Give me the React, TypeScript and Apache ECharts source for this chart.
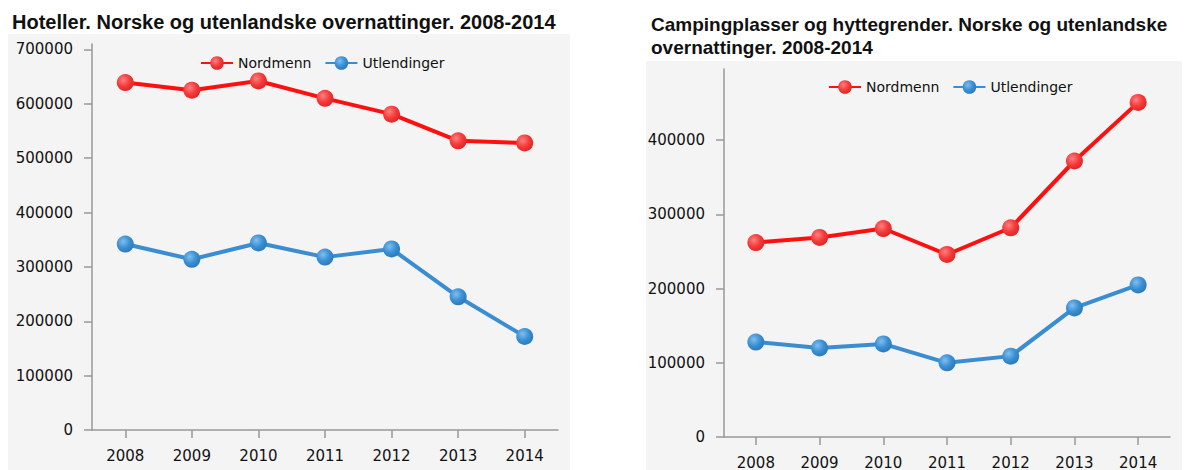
import React, { useEffect, useRef } from "react";
import * as echarts from "echarts";

const years = ["2008", "2009", "2010", "2011", "2012", "2013", "2014"];
const hotelNordmenn = [639000, 625000, 642000, 610000, 581000, 532000, 528000];
const hotelUtlendinger = [342000, 314000, 344000, 318000, 333000, 245000, 172000];
const campNordmenn = [262000, 269000, 281000, 246000, 282000, 372000, 451000];
const campUtlendinger = [128000, 120000, 125500, 100000, 109000, 174000, 205000];
const hotelTicks = [0, 100000, 200000, 300000, 400000, 500000, 600000, 700000];
const campTicks = [0, 100000, 200000, 300000, 400000];
const seriesNames = ["Nordmenn", "Utlendinger"];
const titles = [
  "Hoteller. Norske og utenlandske overnattinger. 2008-2014",
  "Campingplasser og hyttegrender. Norske og utenlandske\novernattinger. 2008-2014",
];

const FONT = "DejaVu Sans";
const RED = "#ff1010";
const BLUE = "#3a8dd0";

const redFill = {
  type: "radial",
  x: 0.38,
  y: 0.35,
  r: 0.7,
  colorStops: [
    { offset: 0, color: "#ff8080" },
    { offset: 0.55, color: "#f43a3a" },
    { offset: 1, color: "#e02222" },
  ],
};
const blueFill = {
  type: "radial",
  x: 0.38,
  y: 0.35,
  r: 0.7,
  colorStops: [
    { offset: 0, color: "#7fbff0" },
    { offset: 0.55, color: "#3a8fd2" },
    { offset: 1, color: "#2a78b8" },
  ],
};

function xAxisFor(gridIndex: number) {
  return {
    type: "category",
    gridIndex,
    data: years,
    boundaryGap: true,
    axisLine: { show: true, lineStyle: { color: "#999", width: 1.5 } },
    axisTick: { show: true, alignWithLabel: true, length: 8, lineStyle: { color: "#999", width: 1.5 } },
    axisLabel: { fontFamily: FONT, fontSize: 15, color: "#111", margin: 18 },
    splitLine: { show: false },
  };
}

function yAxisFor(gridIndex: number, max: number, ticks: number[]) {
  return {
    type: "value",
    gridIndex,
    min: 0,
    max,
    axisLine: { show: true, lineStyle: { color: "#999", width: 1.5 } },
    axisTick: { show: true, length: 8, customValues: ticks, lineStyle: { color: "#999", width: 1.5 } },
    axisLabel: {
      fontFamily: FONT,
      fontSize: 15,
      color: "#111",
      margin: 19,
      customValues: ticks,
      formatter: (v: number) => String(v),
    },
    splitLine: { show: false },
  };
}

function lineSeries(name: string, data: number[], idx: number, color: string, fill: any) {
  return {
    name,
    type: "line",
    xAxisIndex: idx,
    yAxisIndex: idx,
    data,
    symbol: "circle",
    symbolSize: 17,
    showAllSymbol: true,
    lineStyle: { color, width: 4 },
    itemStyle: { color: fill, borderWidth: 0 },
    emphasis: { disabled: true },
  };
}

export default function App() {
  const ref = useRef<HTMLDivElement>(null);
  useEffect(() => {
    if (!ref.current) return;
    const chart = echarts.init(ref.current, undefined, { renderer: "svg" });
    const legendCommon = {
      data: seriesNames,
      itemWidth: 32,
      itemHeight: 17,
      itemGap: 13,
      textStyle: { fontFamily: FONT, fontSize: 14, color: "#111" },
      orient: "horizontal",
    };
    const titleStyle = { fontFamily: "Liberation Sans", fontWeight: "bold", color: "#111" };
    chart.setOption({
      animation: false,
      backgroundColor: "#ffffff",
      graphic: [
        { type: "rect", z: -100, silent: true, shape: { x: 8, y: 34, width: 562, height: 436 }, style: { fill: "#f4f4f4" } },
        { type: "rect", z: -100, silent: true, shape: { x: 646, y: 61, width: 536, height: 409 }, style: { fill: "#f4f4f4" } },
      ],
      title: [
        { text: titles[0], left: 7, top: 6, textStyle: { ...titleStyle, fontSize: 20, lineHeight: 22 } },
        { text: titles[1], left: 646, top: 8, textStyle: { ...titleStyle, fontSize: 19, lineHeight: 23 } },
      ],
      legend: [
        { ...legendCommon, left: 195, top: 51 },
        { ...legendCommon, left: 823, top: 75 },
      ],
      grid: [
        { left: 92, top: 44, width: 466, height: 386 },
        { left: 724, top: 69, width: 446, height: 369.5 },
      ],
      xAxis: [xAxisFor(0), xAxisFor(1)],
      yAxis: [yAxisFor(0, 710000, hotelTicks), yAxisFor(1, 496000, campTicks)],
      series: [
        lineSeries(seriesNames[0], hotelNordmenn, 0, RED, redFill),
        lineSeries(seriesNames[1], hotelUtlendinger, 0, BLUE, blueFill),
        lineSeries(seriesNames[0], campNordmenn, 1, RED, redFill),
        lineSeries(seriesNames[1], campUtlendinger, 1, BLUE, blueFill),
      ],
    });
    return () => chart.dispose();
  }, []);
  return (
    <div
      ref={ref}
      style={{ position: "fixed", left: 0, top: 0, width: 1192, height: 470, background: "#fff" }}
    />
  );
}
